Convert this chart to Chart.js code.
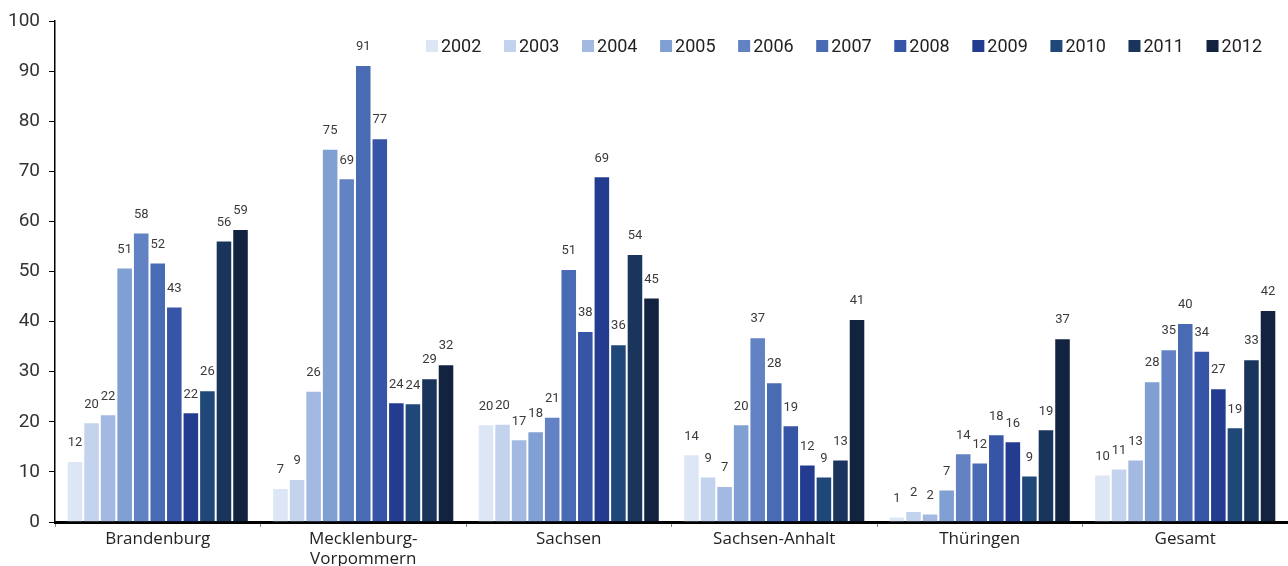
<!DOCTYPE html>
<html>
<head>
<meta charset="utf-8">
<script src="https://cdn.jsdelivr.net/npm/chart.js@4.4.1/dist/chart.umd.min.js"></script>
<style>
    html, body { margin: 0; padding: 0; background: #ffffff; }
    #wrap { width: 1288px; height: 566px; position: relative; }
</style>
</head>
<body>
<div id="wrap"><canvas id="myChart"></canvas></div>
<script>
// categories (Bundesländer)
const regions = ["Brandenburg", ["Mecklenburg-", "Vorpommern"], "Sachsen", "Sachsen-Anhalt", "Thüringen", "Gesamt"];

// years of the series
const years = ["2002", "2003", "2004", "2005", "2006", "2007", "2008", "2009", "2010", "2011", "2012"];

// one array per year, values in order of regions
const v2002 = [12.2, 6.8, 19.5, 13.5, 1.1, 9.5];
const v2003 = [19.9, 8.6, 19.6, 9.1, 2.2, 10.7];
const v2004 = [21.5, 26.2, 16.5, 7.2, 1.7, 12.5];
const v2005 = [50.8, 74.5, 18.1, 19.5, 6.5, 28.1];
const v2006 = [57.8, 68.6, 21.0, 36.9, 13.7, 34.5];
const v2007 = [51.8, 91.2, 50.5, 27.9, 11.9, 39.7];
const v2008 = [43.0, 76.6, 38.1, 19.3, 17.5, 34.2];
const v2009 = [21.9, 23.9, 69.0, 11.5, 16.1, 26.7];
const v2010 = [26.3, 23.7, 35.5, 9.1, 9.3, 18.9];
const v2011 = [56.2, 28.7, 53.5, 12.5, 18.5, 32.5];
const v2012 = [58.5, 31.5, 44.8, 40.5, 36.7, 42.3];

const yearColors = ["#dde6f5", "#c3d3ee", "#a3b9e2", "#809fd3", "#6282c3", "#486bb3",
                    "#3755a6", "#243c8f", "#1f4878", "#19355c", "#12233f"];

const seriesValues = [v2002, v2003, v2004, v2005, v2006, v2007, v2008, v2009, v2010, v2011, v2012];

const narrowFont = "Roboto, 'Liberation Sans', sans-serif";

// build datasets from the arrays above
const datasets = years.map((year, i) => ({
    label: year,
    data: seriesValues[i],
    backgroundColor: yearColors[i],
    borderColor: 'rgba(255,255,255,0.18)',
    borderWidth: 1,
    barPercentage: 1.0,
    categoryPercentage: 0.886
}));

// draw the rounded value above each bar
const valueLabels = {
    id: 'valueLabels',
    afterDatasetsDraw(chart){
        const ctx = chart.ctx;
        ctx.save();
        ctx.font = "13px " + narrowFont;
        ctx.fillStyle = "#3a3a3a";
        ctx.textAlign = "center";
        ctx.textBaseline = "middle";
        chart.data.datasets.forEach((ds, i) => {
            const meta = chart.getDatasetMeta(i);
            meta.data.forEach((bar, j) => {
                ctx.fillText(Math.round(ds.data[j]), bar.x, bar.y - 18);
            });
        });
        ctx.restore();
    }
};

// horizontal legend in the top right corner of the plot area
const topLegend = {
    id: 'topLegend',
    afterDraw(chart){
        const ctx = chart.ctx;
        const area = chart.chartArea;
        const box = 12, gap = 3, spacing = 22.6;
        ctx.save();
        ctx.font = "18px " + narrowFont;
        ctx.textBaseline = "middle";
        ctx.textAlign = "left";
        const items = chart.data.datasets.map(ds => ({
            text: ds.label, color: ds.backgroundColor, w: ctx.measureText(ds.label).width
        }));
        let total = items.reduce((s, it) => s + box + gap + it.w, 0) + spacing * (items.length - 1);
        let x = area.right - 26 - total;
        const y = area.top + 25;
        items.forEach(it => {
            ctx.fillStyle = it.color;
            ctx.fillRect(x, y - box / 2, box, box);
            ctx.fillStyle = "#222";
            ctx.fillText(it.text, x + box + gap, y + 1);
            x += box + gap + it.w + spacing;
        });
        ctx.restore();
    }
};

const context = document.getElementById('myChart');
const myBarChart = new Chart(context, {
    type: 'bar',
    data: {
        labels: regions,
        datasets: datasets
    },
    options: {
        responsive: true,
        maintainAspectRatio: false,
        animation: false,
        layout: {
            padding: { top: 21, right: 0, left: 0, bottom: 0 }
        },
        plugins: {
            tooltip: { enabled: false },
            legend: { display: false }
        },
        scales: {
            x: {
                grid: {
                    offset: true,
                    drawOnChartArea: false,
                    drawTicks: true,
                    tickLength: 5,
                    color: '#888'
                },
                border: { display: true, color: '#000', width: 3 },
                ticks: {
                    color: '#222',
                    padding: 2,
                    font: { size: 17, family: "'Open Sans', 'Noto Sans', sans-serif" },
                    maxRotation: 0
                },
                afterFit(scale){ scale.height = 44; }
            },
            y: {
                min: 0,
                max: 100,
                ticks: {
                    stepSize: 10,
                    color: '#333',
                    padding: 9,
                    font: { size: 19, family: narrowFont }
                },
                grid: {
                    drawOnChartArea: false,
                    drawTicks: true,
                    tickLength: 6,
                    color: '#000'
                },
                border: { display: true, color: '#000', width: 1.5 },
                afterFit(scale){ scale.width = 55; }
            }
        }
    },
    plugins: [valueLabels, topLegend]
});
</script>
</body>
</html>
